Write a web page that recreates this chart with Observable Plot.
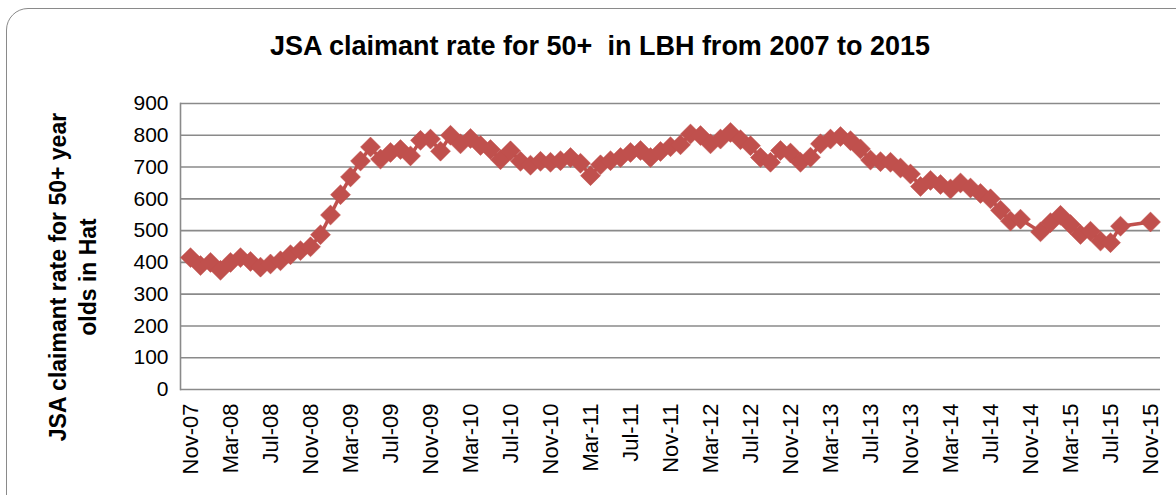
<!DOCTYPE html>
<html>
<head>
<meta charset="utf-8">
<script src="https://cdn.jsdelivr.net/npm/d3@7"></script>
<script src="https://cdn.jsdelivr.net/npm/@observablehq/plot@0.6"></script>
<style>
  html, body { margin: 0; padding: 0; background: #fff; overflow: hidden; }
  #wrap { position: relative; width: 1176px; height: 495px; overflow: hidden; background: #fff; }
  #frame { position: absolute; left: 6px; top: 8px; width: 1220px; height: 540px; border: 1.5px solid #8a8a8a; border-radius: 22px; box-sizing: border-box; }
  #title { position: absolute; left: 0; width: 1200px; top: 31px; text-align: center; white-space: pre;
           font: bold 27px "Liberation Sans", Arial, sans-serif; color: #000; }
  #ylabel { position: absolute; left: 73px; top: 277px; width: 420px; text-align: center;
            transform: translate(-50%, -50%) rotate(-90deg); font: bold 23px "Liberation Sans", Arial, sans-serif;
            line-height: 30px; color: #000; white-space: nowrap; }
  #chart { position: absolute; left: 0; top: 80px; }
</style>
</head>
<body>
<div id="wrap">
  <div id="frame"></div>
  <div id="title">JSA claimant rate for 50+  in LBH from 2007 to 2015</div>
  <div id="ylabel">JSA claimant rate for 50+ year<br>olds in Hat</div>
  <div id="chart"></div>
</div>
<script>
const months = [
  "Nov-07","Dec-07",
  "Jan-08","Feb-08","Mar-08","Apr-08","May-08","Jun-08","Jul-08","Aug-08","Sep-08","Oct-08","Nov-08","Dec-08",
  "Jan-09","Feb-09","Mar-09","Apr-09","May-09","Jun-09","Jul-09","Aug-09","Sep-09","Oct-09","Nov-09","Dec-09",
  "Jan-10","Feb-10","Mar-10","Apr-10","May-10","Jun-10","Jul-10","Aug-10","Sep-10","Oct-10","Nov-10","Dec-10",
  "Jan-11","Feb-11","Mar-11","Apr-11","May-11","Jun-11","Jul-11","Aug-11","Sep-11","Oct-11","Nov-11","Dec-11",
  "Jan-12","Feb-12","Mar-12","Apr-12","May-12","Jun-12","Jul-12","Aug-12","Sep-12","Oct-12","Nov-12","Dec-12",
  "Jan-13","Feb-13","Mar-13","Apr-13","May-13","Jun-13","Jul-13","Aug-13","Sep-13","Oct-13","Nov-13","Dec-13",
  "Jan-14","Feb-14","Mar-14","Apr-14","May-14","Jun-14","Jul-14","Aug-14","Sep-14","Oct-14","Nov-14","Dec-14",
  "Jan-15","Feb-15","Mar-15","Apr-15","May-15","Jun-15","Jul-15","Aug-15","Sep-15","Oct-15","Nov-15"
];
// null = no value for that month
const rate = [
  415, 390,
  400, 375, 400, 415, 403, 385, 395, 405, 424, 437, 449, 487,
  549, 613, 669, 719, 763, 725, 746, 755, 735, 784, 788, 750,
  800, 773, 790, 768, 755, 723, 751, 718, 706, 718, 715, 720,
  730, 712, 673, 707, 720, 730, 746, 752, 730, 749, 764, 770,
  804, 799, 773, 788, 809, 786, 767, 730, 715, 752, 744, 715,
  731, 773, 788, 796, 783, 757, 722, 717, 715, 697, 678, 639,
  658, 645, 631, 650, 634, 617, 600, 564, 530, 536, null, 496,
  525, 548, 519, 488, 498, 467, 462, 514, null, null, 527
];
const tickLabels = ["Nov-07","Mar-08","Jul-08","Nov-08","Mar-09","Jul-09","Nov-09","Mar-10","Jul-10","Nov-10",
  "Mar-11","Jul-11","Nov-11","Mar-12","Jul-12","Nov-12","Mar-13","Jul-13","Nov-13","Mar-14","Jul-14","Nov-14",
  "Mar-15","Jul-15","Nov-15"];
const yTicks = [0, 100, 200, 300, 400, 500, 600, 700, 800, 900];

const data = months.map((m, i) => ({month: m, rate: rate[i]})).filter(d => d.rate != null);

const chart = Plot.plot({
  width: 1176,
  height: 415,
  marginLeft: 180,
  marginRight: 16,
  marginTop: 23,
  marginBottom: 106,
  style: {fontFamily: '"Liberation Sans", Arial, sans-serif', fontSize: "20px", color: "#000", background: "transparent", overflow: "visible"},
  x: {type: "point", domain: months, padding: 0.5, label: null},
  y: {domain: [0, 900], label: null},
  marks: [
    Plot.ruleY(yTicks, {stroke: "#8a8a8a", strokeWidth: 1.6}),
    Plot.frame({anchor: "left", stroke: "#8a8a8a", strokeWidth: 1.6}),
    Plot.line(data, {x: "month", y: "rate", stroke: "#C0504D", strokeWidth: 3.5}),
    Plot.dot(data, {x: "month", y: "rate", symbol: "diamond2", r: 9, fill: "#C0504D", stroke: "#C0504D", strokeWidth: 0.5}),
    Plot.axisX({ticks: tickLabels, tickRotate: -90, tickSize: 0, tickPadding: 14, fontSize: 22, label: null}),
    Plot.axisY({ticks: yTicks, tickSize: 0, tickPadding: 12, fontSize: 21, label: null})
  ]
});
document.getElementById("chart").appendChild(chart);
</script>
</body>
</html>
